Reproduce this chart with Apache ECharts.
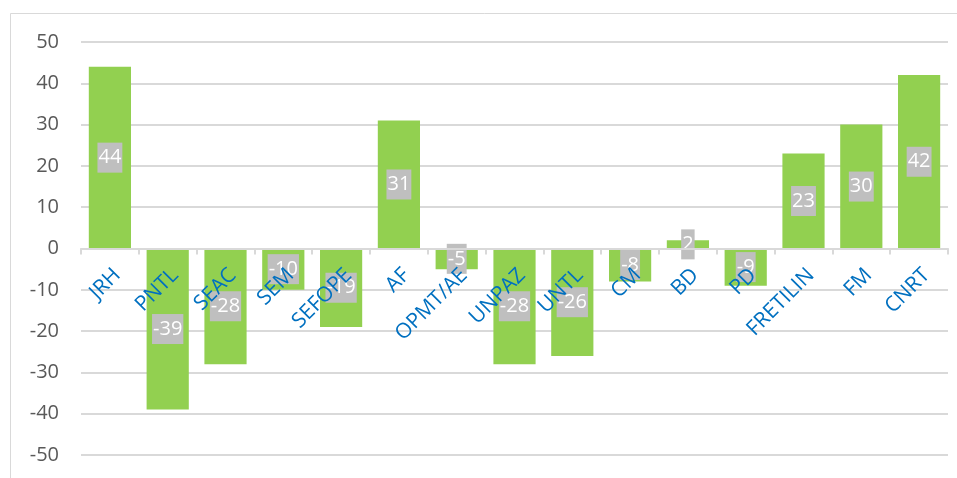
<!DOCTYPE html>
<html><head><meta charset="utf-8">
<script src="https://cdn.jsdelivr.net/npm/echarts@6/dist/echarts.min.js"></script>
<style>html,body{margin:0;padding:0;background:#fff}#c{width:957px;height:478px}</style>
</head><body><div id="c"></div>
<script>
const categories = ['JRH','PNTL','SEAC','SEM','SEFOPE','AF','OPMT/AE','UNPAZ','UNTL','CM','BD','PD','FRETILIN','FM','CNRT'];
const values = [44,-39,-28,-10,-19,31,-5,-28,-26,-8,2,-9,23,30,42];
const yTicks = [-50,-40,-30,-20,-10,0,10,20,30,40,50];

const chart = echarts.init(document.getElementById('c'));
chart.setOption({
  animation:false,
  backgroundColor:'#fff',
  graphic:[{type:'rect',shape:{x:10.5,y:13.5,width:960,height:480},style:{fill:'none',stroke:'#D9D9D9',lineWidth:1},z:-10}],
  grid:{left:81,right:9,top:42,bottom:23,outerBoundsMode:'none',containLabel:false},
  xAxis:{type:'category',data:categories,z:5,position:'bottom',offset:-206.5,
    axisLine:{onZero:false,lineStyle:{color:'#D9D9D9',width:2}},
    axisTick:{show:true,length:6,lineStyle:{color:'#D9D9D9',width:2}},
    axisLabel:{rotate:45,color:'#0070C0',fontSize:21,fontFamily:'Open Sans',margin:16,interval:0,
      verticalAlign:'top'}},
  yAxis:{type:'value',min:yTicks[0],max:yTicks[yTicks.length-1],interval:10,
    axisLine:{show:false},axisTick:{show:false},
    splitLine:{lineStyle:{color:'#D9D9D9',width:2}},
    axisLabel:{color:'#595959',fontSize:20,fontFamily:'Open Sans',margin:22}},
  series:[{type:'bar',data:values,barCategoryGap:'27%',
    itemStyle:{color:'#92D050'},
    label:{show:true,position:'inside',color:'#fff',fontSize:20,lineHeight:22,fontFamily:'Open Sans',
      backgroundColor:'#BFBFBF',padding:[4,1,4,1]}}]
});
</script></body></html>
